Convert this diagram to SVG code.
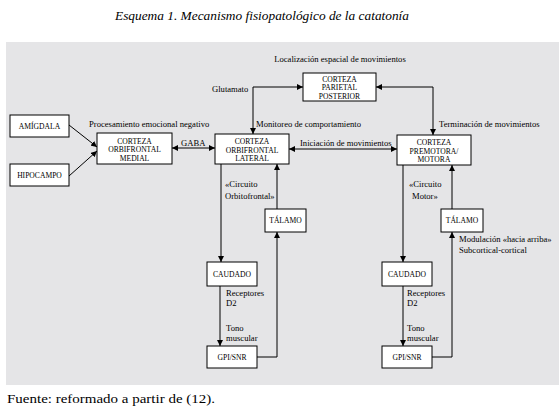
<svg xmlns="http://www.w3.org/2000/svg" width="559" height="409" viewBox="0 0 559 409">
<style>
.box{fill:#fff;stroke:#000;stroke-width:1}
.bt{font-family:"Liberation Serif",serif;font-size:7.6px;text-anchor:middle;fill:#000}
.lb{font-family:"Liberation Serif",serif;font-size:8.6px;fill:#000}
.ln{fill:none;stroke:#000;stroke-width:1}
</style>
<defs>
<marker id="ah" viewBox="0 0 10 10" refX="10" refY="5" markerWidth="6" markerHeight="6" markerUnits="userSpaceOnUse" orient="auto-start-reverse">
<path d="M0,0 L10,5 L0,10 z" fill="#000"/>
</marker>
</defs>
<rect x="0" y="0" width="559" height="409" fill="#fff"/>
<text x="115" y="20" font-family="'Liberation Serif',serif" font-size="12.5" font-style="italic" textLength="294" lengthAdjust="spacingAndGlyphs">Esquema 1. Mecanismo fisiopatológico de la catatonía</text>
<rect x="6" y="42" width="553" height="343" fill="#e5e5e7"/>
<text x="7" y="403" font-family="'Liberation Serif',serif" font-size="12.5" textLength="208" lengthAdjust="spacingAndGlyphs">Fuente: reformado a partir de (12).</text>

<g id="connectors">
<line class="ln" x1="69" y1="125" x2="97" y2="147" marker-end="url(#ah)"/>
<line class="ln" x1="69" y1="176" x2="97" y2="151" marker-end="url(#ah)"/>
<line class="ln" x1="172" y1="148" x2="215" y2="148" marker-start="url(#ah)" marker-end="url(#ah)"/>
<line class="ln" x1="289" y1="149" x2="397" y2="149" marker-start="url(#ah)" marker-end="url(#ah)"/>
<path class="ln" d="M253,134 V87 H303" marker-start="url(#ah)" marker-end="url(#ah)"/>
<path class="ln" d="M376,87 H433 V135" marker-start="url(#ah)" marker-end="url(#ah)"/>
<line class="ln" x1="221" y1="164" x2="221" y2="262" marker-end="url(#ah)"/>
<line class="ln" x1="277" y1="209" x2="277" y2="164" marker-end="url(#ah)"/>
<line class="ln" x1="220" y1="286" x2="220" y2="346" marker-end="url(#ah)"/>
<path class="ln" d="M257,357 H277 V232" marker-end="url(#ah)"/>
<line class="ln" x1="403" y1="165" x2="403" y2="262" marker-end="url(#ah)"/>
<line class="ln" x1="452" y1="209" x2="452" y2="165" marker-end="url(#ah)"/>
<line class="ln" x1="403" y1="286" x2="403" y2="346" marker-end="url(#ah)"/>
<path class="ln" d="M432,357 H452 V232" marker-end="url(#ah)"/>
</g>

<g id="labels">
<text class="lb" x="340" y="62" text-anchor="middle">Localización espacial de movimientos</text>
<text class="lb" x="212" y="92">Glutamato</text>
<text class="lb" x="89" y="127">Procesamiento emocional negativo</text>
<text class="lb" x="256" y="127">Monitoreo de comportamiento</text>
<text class="lb" x="439" y="127">Terminación de movimientos</text>
<text class="lb" x="181" y="146">GABA</text>
<text class="lb" x="300" y="146">Iniciación de movimientos</text>
<text class="lb" x="225" y="187">«Circuito</text>
<text class="lb" x="225" y="199">Orbitofrontal»</text>
<text class="lb" x="409" y="187">«Circuito</text>
<text class="lb" x="412" y="199">Motor»</text>
<text class="lb" x="459" y="242">Modulación «hacia arriba»</text>
<text class="lb" x="459" y="253">Subcortical-cortical</text>
<text class="lb" x="226" y="296">Receptores</text>
<text class="lb" x="226" y="306">D2</text>
<text class="lb" x="226" y="331">Tono</text>
<text class="lb" x="226" y="341">muscular</text>
<text class="lb" x="407" y="296">Receptores</text>
<text class="lb" x="407" y="306">D2</text>
<text class="lb" x="407" y="331">Tono</text>
<text class="lb" x="407" y="341">muscular</text>
</g>

<g id="amigdala"><rect class="box" x="10" y="115" width="59" height="22"/><text class="bt" x="39.5" y="128.5">AMÍGDALA</text></g>
<g id="hipocampo"><rect class="box" x="10" y="164" width="59" height="22"/><text class="bt" x="39.5" y="178">HIPOCAMPO</text></g>
<g id="cof-medial"><rect class="box" x="97" y="133" width="75" height="31"/><text class="bt" x="134.5" y="143.5">CORTEZA</text><text class="bt" x="134.5" y="152">ORBIFRONTAL</text><text class="bt" x="134.5" y="160.5">MEDIAL</text></g>
<g id="cof-lateral"><rect class="box" x="215" y="134" width="74" height="30"/><text class="bt" x="252" y="144">CORTEZA</text><text class="bt" x="252" y="152.5">ORBIFRONTAL</text><text class="bt" x="252" y="161">LATERAL</text></g>
<g id="premotora"><rect class="box" x="397" y="135" width="74" height="30"/><text class="bt" x="434" y="145">CORTEZA</text><text class="bt" x="434" y="153.5">PREMOTORA/</text><text class="bt" x="434" y="162">MOTORA</text></g>
<g id="parietal"><rect class="box" x="303" y="73" width="73" height="28"/><text class="bt" x="339.5" y="81.5">CORTEZA</text><text class="bt" x="339.5" y="90">PARIETAL</text><text class="bt" x="339.5" y="98.5">POSTERIOR</text></g>
<g id="talamo-l"><rect class="box" x="265" y="209" width="41" height="23"/><text class="bt" x="285.5" y="223">TÁLAMO</text></g>
<g id="talamo-r"><rect class="box" x="441" y="209" width="42" height="23"/><text class="bt" x="462" y="223">TÁLAMO</text></g>
<g id="caudado-l"><rect class="box" x="207" y="262" width="50" height="24"/><text class="bt" x="232" y="276.5">CAUDADO</text></g>
<g id="caudado-r"><rect class="box" x="382" y="262" width="50" height="24"/><text class="bt" x="407" y="276.5">CAUDADO</text></g>
<g id="gpi-l"><rect class="box" x="207" y="346" width="50" height="22"/><text class="bt" x="232" y="360">GPI/SNR</text></g>
<g id="gpi-r"><rect class="box" x="382" y="346" width="50" height="22"/><text class="bt" x="407" y="360">GPI/SNR</text></g>
</svg>
